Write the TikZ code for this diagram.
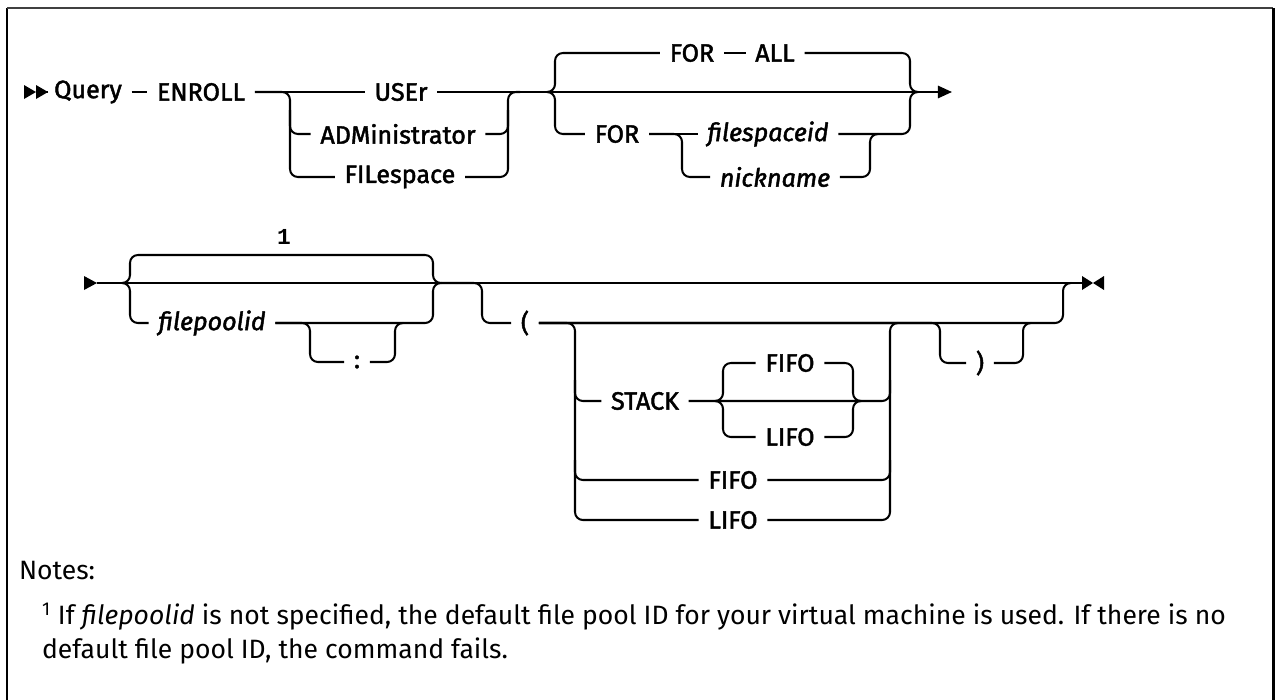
\documentclass[tikz,border=0pt]{standalone}
\usepackage{fontspec}
\setmainfont{Fira Sans}
\newfontfamily\railfont{Fira Sans}[FakeBold=1.8]
\newfontfamily\refmono{Liberation Mono}
\usetikzlibrary{arrows.meta}

\tikzset{
    kw/.style={font=\railfont\fontsize{14.3}{16}\selectfont, inner xsep=5pt, inner ysep=2pt},
    var/.style={kw, font=\railfont\itshape\fontsize{14.3}{16}\selectfont},
    rail/.style={rounded corners=4.5pt},
    tip/.style={-{Triangle[length=8pt,width=7pt]}},
}

\begin{document}
\begin{tikzpicture}[x=0.02cm, y=-0.02cm, line width=1.15pt]
    \useasboundingbox (0,0) rectangle (1275,700);
    \draw[line width=1.2pt] (7,700) -- (7,8);
    \draw[line width=1pt, black!75] (7,8) -- (1273,8);
    \draw[line width=1.7pt] (1273,8) -- (1273,700);

    \node[kw] (query) at (88,92) {Query};
    \node[kw] (enroll) at (201,92) {ENROLL};
    \node[kw] (user) at (401,92) {USEr};
    \node[kw] (admin) at (398,134) {ADMinistrator};
    \node[kw] (filesp) at (400,177) {FILespace};
    \node[kw] (for1) at (692,53) {FOR};
    \node[kw] (all) at (775,53) {ALL};
    \node[kw] (for2) at (617,134) {FOR};
    \node[var] (fsid) at (768,134) {filespaceid};
    \node[var] (nick) at (775,177) {nickname};
    \coordinate (s1) at (48,92);
    \coordinate (e1) at (952,92);

    \fill (24,85) -- (36,92) -- (24,99) -- cycle (36,85) -- (48,92) -- (36,99) -- cycle;
    \draw (s1) -- (query);
    \draw (query) -- (enroll);
    \draw[tip] (user) -- (e1);
    \draw (enroll) -- (user);
    \draw[rail] (enroll) -| (290,177) -- (filesp);
    \draw[rail] (290,110) |- (admin);
    \draw[rail] (filesp) -| (508,92) -- (520,92);
    \draw[rail] (admin) -| (508,110);
    \draw[rail] (547,92) -| (555,53) -- (for1);
    \draw[rail] (547,92) -| (555,134) -- (for2);
    \draw (for1) -- (all);
    \draw[rail] (all) -| (910,92) -- (918,92);
    \draw (for2) -- (fsid);
    \draw[rail] (for2) -| (682,177) -- (nick);
    \draw[rail] (nick) -| (870,134) -- (878,134);
    \draw[rail] (fsid) -| (910,92) -- (918,92);

    \node[font=\refmono\bfseries\fontsize{13}{15}\selectfont, inner sep=1pt] (one) at (284,237) {1};
    \node[var] (fpid) at (212,323) {filepoolid};
    \node[kw] (colon) at (357,362) {:};
    \node[kw] (lpar) at (525,323) {(};
    \node[kw] (stack) at (645,401) {STACK};
    \node[kw] (fifo1) at (790,363) {FIFO};
    \node[kw] (lifo1) at (790,437) {LIFO};
    \node[kw] (fifo2) at (733,480) {FIFO};
    \node[kw] (lifo2) at (733,520) {LIFO};
    \node[kw] (rpar) at (980,363) {)};
    \coordinate (s2) at (97,283);
    \coordinate (e2) at (1082,283);

    \fill (84,276) -- (97,283) -- (84,290) -- cycle;
    \draw (s2) -- (e2);
    \fill (1082,276) -- (1093,283) -- (1082,290) -- cycle (1104,276) -- (1093,283) -- (1104,290) -- cycle;
    \draw[rail] (122,283) -| (130,255) -| (433,283) -- (441,283);
    \draw[rail] (122,283) -| (130,323) -- (fpid);
    \draw[rail] (fpid) -| (433,283) -- (441,283);
    \draw[rail] (fpid) -| (310,362) -- (colon);
    \draw[rail] (colon) -| (395,323) -- (403,323);
    \draw[rail] (441,283) -| (482,323) -- (lpar);
    \draw[rail] (lpar) -| (1063,283) -- (1071,283);
    \draw[rail] (lpar) -| (575,520) -- (lifo2);
    \draw[rail] (575,380) |- (stack);
    \draw[rail] (575,460) |- (fifo2);
    \draw[rail] (stack) -| (890,380);
    \draw[rail] (fifo2) -| (890,460);
    \draw[rail] (lifo2) -| (890,323) -- (898,323);
    \draw[rail] (715,401) -| (723,363) -- (fifo1);
    \draw[rail] (715,401) -| (723,437) -- (lifo1);
    \draw[rail] (fifo1) -| (853,401) -- (861,401);
    \draw[rail] (lifo1) -| (853,401) -- (861,401);
    \draw[rail] (lpar) -| (940,363) -- (rpar);
    \draw[rail] (rpar) -| (1023,323) -- (1031,323);

    \node[anchor=west, inner sep=0pt, font=\fontsize{15.1}{19.5}\selectfont] (notes) at (18,571) {Notes:};
    \node[anchor=north west, inner sep=0pt, align=left, font=\fontsize{15.1}{19.5}\selectfont] (note1) at (41,602)
        {\textsuperscript{1} If \textit{filepoolid} is not specified, the default file pool ID for your virtual machine is used. If there is no\\default file pool ID, the command fails.};
\end{tikzpicture}
\end{document}
